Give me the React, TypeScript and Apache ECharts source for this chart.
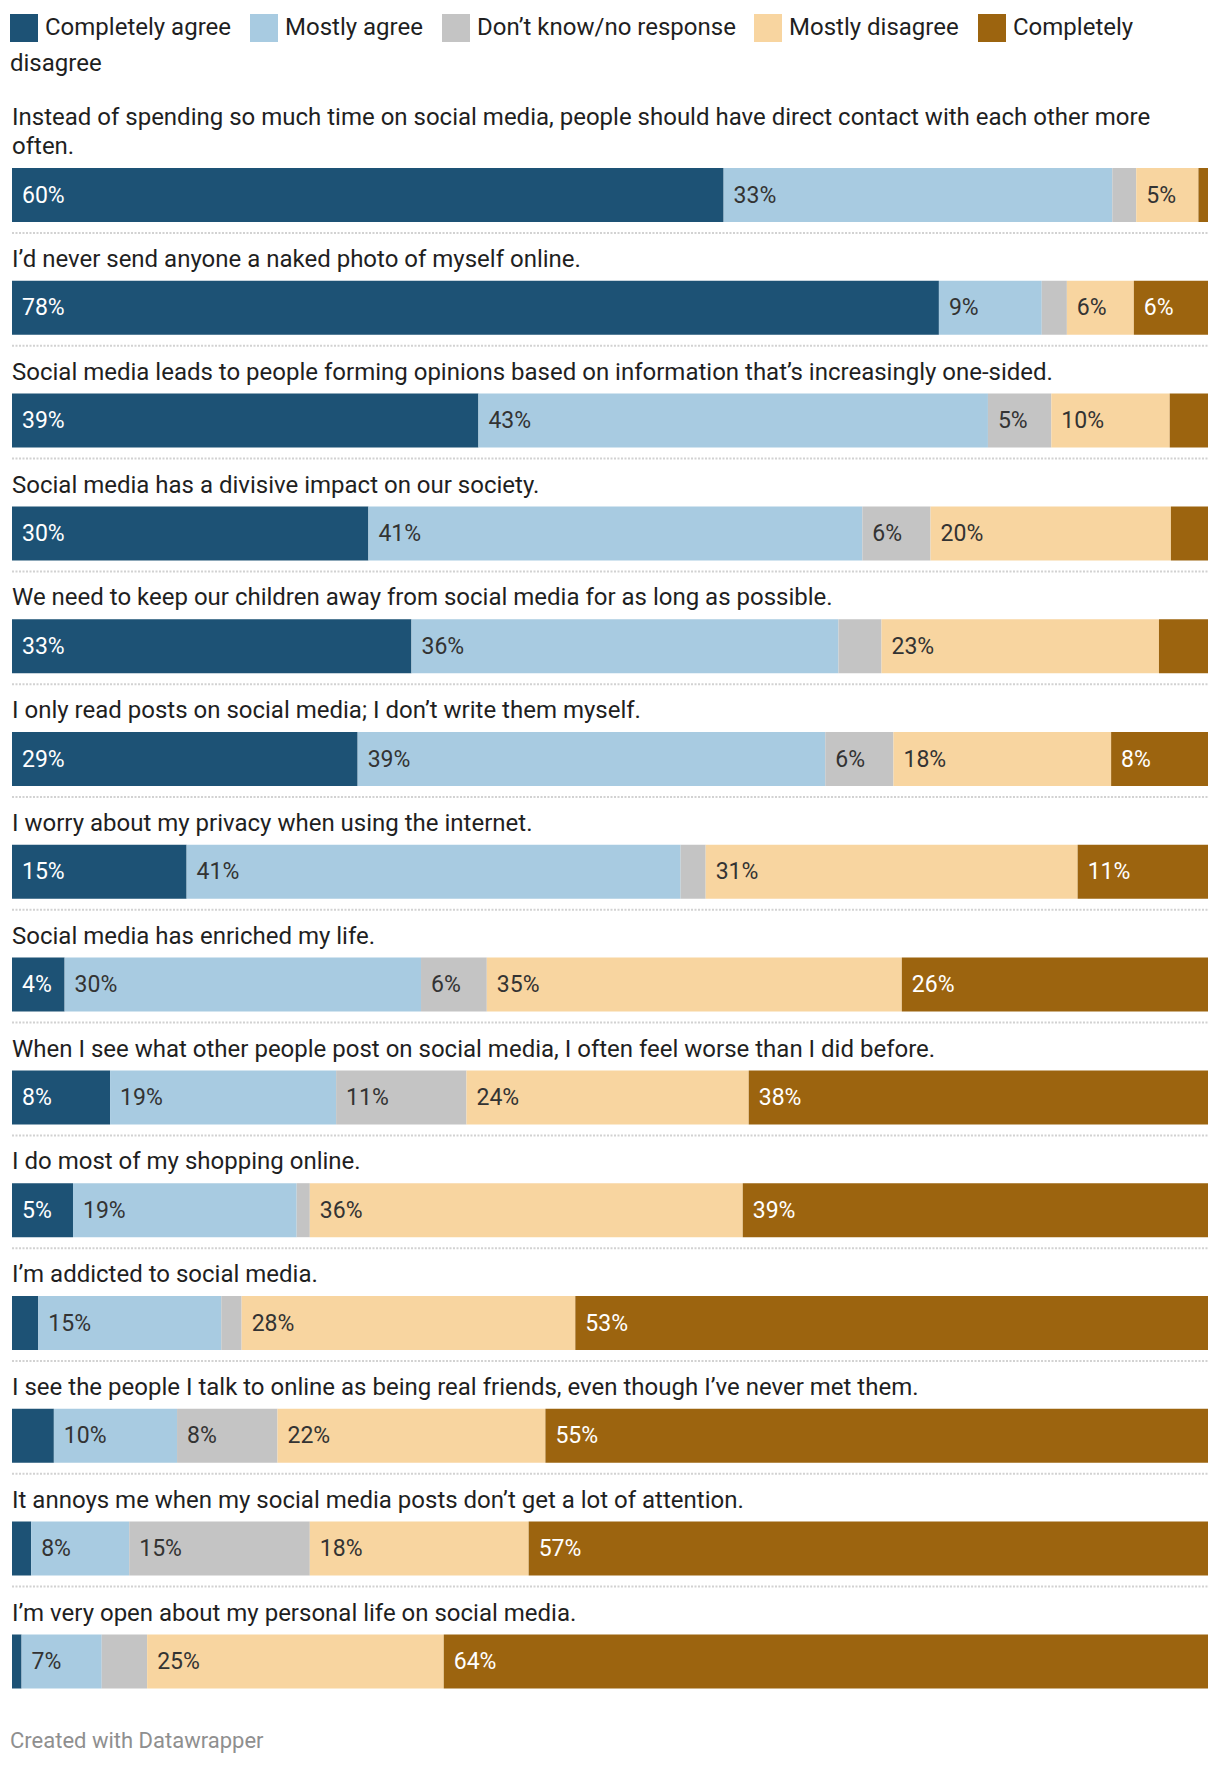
import React, { useEffect, useRef } from "react";
import * as echarts from "echarts";

const questions = [
  "Instead of spending so much time on social media, people should have direct contact with each other more often.",
  "I’d never send anyone a naked photo of myself online.",
  "Social media leads to people forming opinions based on information that’s increasingly one-sided.",
  "Social media has a divisive impact on our society.",
  "We need to keep our children away from social media for as long as possible.",
  "I only read posts on social media; I don’t write them myself.",
  "I worry about my privacy when using the internet.",
  "Social media has enriched my life.",
  "When I see what other people post on social media, I often feel worse than I did before.",
  "I do most of my shopping online.",
  "I’m addicted to social media.",
  "I see the people I talk to online as being real friends, even though I’ve never met them.",
  "It annoys me when my social media posts don’t get a lot of attention.",
  "I’m very open about my personal life on social media.",
];

const seriesNames = [
  "Completely agree",
  "Mostly agree",
  "Don’t know/no response",
  "Mostly disagree",
  "Completely disagree",
];

const completelyAgree = [59.5, 77.5, 39.0, 29.8, 33.4, 28.9, 14.6, 4.4, 8.2, 5.1, 2.2, 3.5, 1.6, 0.8];
const mostlyAgree = [32.5, 8.6, 42.6, 41.3, 35.7, 39.1, 41.3, 29.8, 18.9, 18.7, 15.3, 10.3, 8.2, 6.7];
const dontKnow = [2.0, 2.1, 5.3, 5.7, 3.6, 5.7, 2.1, 5.5, 10.9, 1.1, 1.7, 8.4, 15.1, 3.8];
const mostlyDisagree = [5.2, 5.6, 9.9, 20.1, 23.2, 18.2, 31.1, 34.7, 23.6, 36.2, 27.9, 22.4, 18.3, 24.8];
const completelyDisagree = [0.8, 6.2, 3.2, 3.1, 4.1, 8.1, 10.9, 25.6, 38.4, 38.9, 52.9, 55.4, 56.8, 63.9];

const seriesValues = [completelyAgree, mostlyAgree, dontKnow, mostlyDisagree, completelyDisagree];
const colors = ["#1d5275", "#a8cbe1", "#c4c4c4", "#f8d5a0", "#9c640f"];
const labelColors = ["#ffffff", "#333333", "#333333", "#333333", "#ffffff"];

const FONT = "Roboto, 'Noto Sans', sans-serif";
const W = 1220;
const H = 1766;
const GRID_LEFT = 12;
const GRID_WIDTH = 1196;
const BAND = 112.8;
const BAR_W = 54;
const FIRST_BAR_TOP = 168;
const GRID_TOP = FIRST_BAR_TOP - (BAND - BAR_W) / 2;
const LABEL_FS = 23;

function labelFits(v: number): boolean {
  const txt = String(Math.round(v));
  const textW = LABEL_FS * (0.562 * txt.length + 0.733);
  const px = (v / 100) * GRID_WIDTH;
  return px >= textW + 20;
}

export default function App() {
  const ref = useRef<HTMLDivElement>(null);

  useEffect(() => {
    document.body.style.margin = "0";
    if (!ref.current) return;
    const chart = echarts.init(ref.current, undefined, { renderer: "svg" });

    const series = seriesValues.map((vals, si) => ({
      name: seriesNames[si],
      type: "bar",
      stack: "total",
      barWidth: BAR_W,
      data: vals,
      itemStyle: { color: colors[si] },
      emphasis: { disabled: true },
      label: {
        show: true,
        position: "insideLeft",
        distance: 10,
        fontSize: LABEL_FS,
        fontFamily: FONT,
        color: labelColors[si],
        formatter: (p: any) => (labelFits(p.value) ? Math.round(p.value) + "%" : ""),
      },
    }));

    const graphics: any[] = [];
    // legend
    const legendX = [10, 250, 442, 754, 978];
    const legendText = [
      "Completely agree",
      "Mostly agree",
      "Don’t know/no response",
      "Mostly disagree",
      "Completely",
    ];
    legendX.forEach((x, i) => {
      graphics.push({
        type: "rect",
        shape: { x, y: 14, width: 28, height: 28 },
        style: { fill: colors[i] },
      });
      graphics.push({
        type: "text",
        x: x + 35,
        y: 27,
        style: {
          text: legendText[i],
          font: `24px ${FONT}`,
          fill: "#1f1f1f",
          verticalAlign: "middle",
        },
      });
    });
    graphics.push({
      type: "text",
      x: 10,
      y: 62.5,
      style: {
        text: "disagree",
        font: `24px ${FONT}`,
        fill: "#1f1f1f",
        verticalAlign: "middle",
      },
    });
    // separators
    for (let i = 0; i < questions.length - 1; i++) {
      const y = GRID_TOP + (i + 0.5) * BAND + BAR_W / 2 + 11;
      graphics.push({
        type: "line",
        shape: { x1: GRID_LEFT, y1: y, x2: GRID_LEFT + GRID_WIDTH, y2: y },
        style: { stroke: "#d2d2d2", lineWidth: 2, lineDash: [2, 1.5] },
      });
    }
    // footer
    graphics.push({
      type: "text",
      x: 10,
      y: 1740,
      style: {
        text: "Created with Datawrapper",
        font: `22px ${FONT}`,
        fill: "#8f8f8f",
        verticalAlign: "middle",
      },
    });

    chart.setOption({
      animation: false,
      backgroundColor: "#ffffff",
      textStyle: { fontFamily: FONT },
      grid: {
        left: GRID_LEFT,
        width: GRID_WIDTH,
        top: GRID_TOP,
        height: BAND * questions.length,
        containLabel: false,
      },
      xAxis: {
        type: "value",
        min: 0,
        max: 100,
        show: false,
      },
      yAxis: {
        type: "category",
        data: questions,
        inverse: true,
        axisLine: { show: false },
        axisTick: { show: false },
        splitLine: { show: false },
        axisLabel: {
          inside: true,
          margin: 0,
          interval: 0,
          align: "left",
          verticalAlign: "bottom",
          padding: [0, 0, 34, 0],
          lineHeight: 29.5,
          fontSize: 24,
          fontFamily: FONT,
          color: "#1f1f1f",
          width: 1180,
          overflow: "break",
        },
      },
      series,
      graphic: graphics,
    });

    return () => {
      chart.dispose();
    };
  }, []);

  return <div ref={ref} style={{ width: W, height: H }} />;
}
